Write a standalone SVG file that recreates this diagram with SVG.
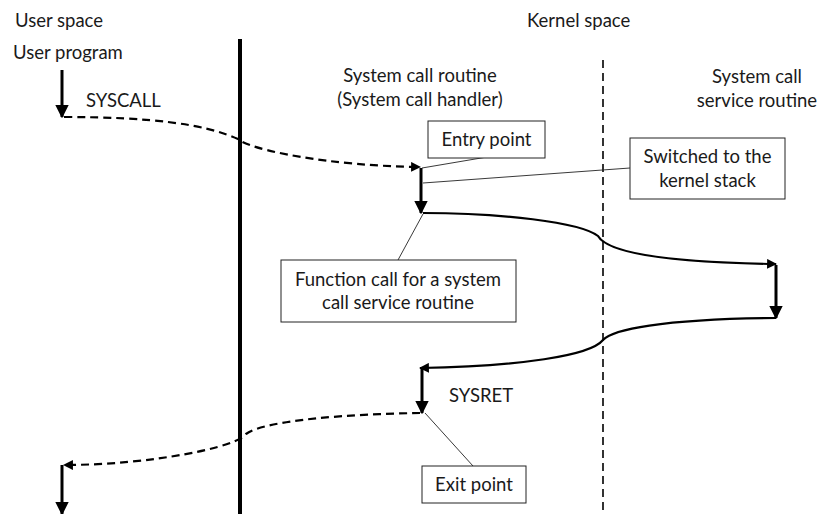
<svg xmlns="http://www.w3.org/2000/svg" width="821" height="514" viewBox="0 0 821 514">
<style>
text{font-family:Lato,"Liberation Sans",sans-serif;font-size:18.5px;fill:#1a1a1a}
.c{text-anchor:middle}
.box{fill:#fff;stroke:#222;stroke-width:1}
.thin{stroke:#222;stroke-width:0.9;fill:none}
.flow{fill:none;stroke:#000;stroke-width:2.2}
.dash{stroke-dasharray:8 5}
.thick{stroke:#000;stroke-width:3;fill:none}
</style>
<defs>
<marker id="ahs" viewBox="0 0 10 10" refX="9" refY="5" markerWidth="4.5" markerHeight="4.5" orient="auto" markerUnits="strokeWidth">
<path d="M0,0 L10,5 L0,10 z" fill="#000"/>
</marker>
</defs>
<g id="labels">
<text x="15" y="27">User space</text>
<text x="527" y="27">Kernel space</text>
<text x="13" y="59">User program</text>
<text x="86" y="107">SYSCALL</text>
<text class="c" x="420" y="82">System call routine</text>
<text class="c" x="420" y="106">(System call handler)</text>
<text class="c" x="757" y="83">System call</text>
<text class="c" x="757" y="107">service routine</text>
<text x="449" y="402">SYSRET</text>
</g>
<g id="dividers">
<line x1="240" y1="39" x2="240" y2="514" stroke="#000" stroke-width="4"/>
<line x1="603" y1="60" x2="603" y2="514" stroke="#000" stroke-width="1.6" stroke-dasharray="8 5"/>
</g>
<g id="connectors">
<line class="thick" x1="62" y1="70" x2="62" y2="117" marker-end="url(#ahs)"/>
<path class="flow dash" d="M64,117 C150,117 205,124 238,139 C250,150 330,166 420,167" marker-end="url(#ahs)"/>
<line class="thick" x1="421" y1="168" x2="421" y2="213" marker-end="url(#ahs)"/>
<path class="flow" d="M423,213 C500,213 580,222 598,236 C605,248 640,262 776,264" marker-end="url(#ahs)"/>
<line class="thick" x1="776" y1="265" x2="776" y2="318" marker-end="url(#ahs)"/>
<path class="flow" d="M776,318 C660,319 612,330 603,340 C590,356 520,366 420,368" marker-end="url(#ahs)"/>
<line class="thick" x1="422" y1="369" x2="422" y2="413" marker-end="url(#ahs)"/>
<path class="flow dash" d="M420,413 C350,414 265,420 246,434 C238,447 150,465 64,465" marker-end="url(#ahs)"/>
<line class="thick" x1="62" y1="465" x2="62" y2="514" marker-end="url(#ahs)"/>
<line class="thin" x1="487" y1="157" x2="422" y2="168"/>
<line class="thin" x1="630" y1="168" x2="423" y2="183"/>
<line class="thin" x1="398" y1="260" x2="423" y2="214"/>
<line class="thin" x1="473" y1="466" x2="425" y2="413"/>
</g>
<g id="entry-point">
<rect class="box" x="428" y="121" width="117" height="37"/>
<text class="c" x="486.5" y="146">Entry point</text>
</g>
<g id="switched">
<rect class="box" x="630" y="138" width="155" height="61"/>
<text class="c" x="707.5" y="163">Switched to the</text>
<text class="c" x="707.5" y="187">kernel stack</text>
</g>
<g id="function-call">
<rect class="box" x="281" y="260" width="235" height="62"/>
<text class="c" x="398" y="286">Function call for a system</text>
<text class="c" x="398" y="309">call service routine</text>
</g>
<g id="exit-point">
<rect class="box" x="422" y="466" width="104" height="37"/>
<text class="c" x="474" y="491">Exit point</text>
</g>
</svg>
